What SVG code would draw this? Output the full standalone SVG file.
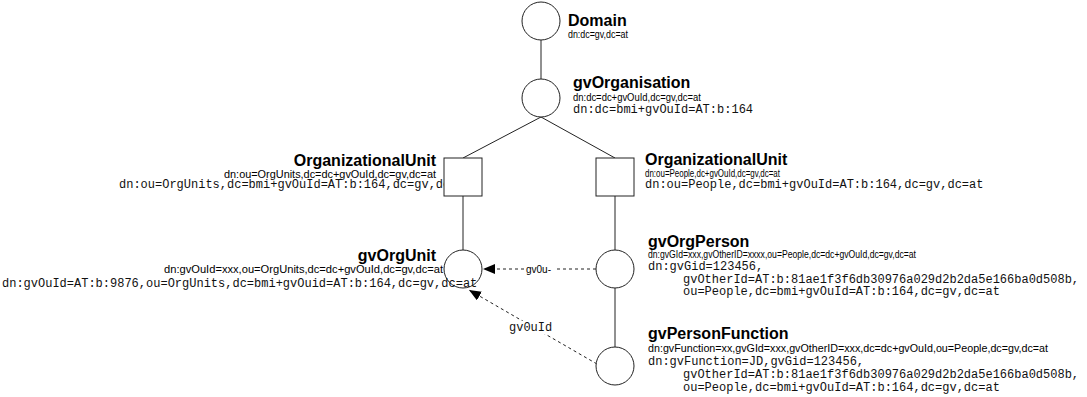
<svg xmlns="http://www.w3.org/2000/svg" width="1087" height="397" viewBox="0 0 1087 397">
<style>
.shape{fill:#fff;stroke:#222;stroke-width:1}
.edge{fill:none;stroke:#222;stroke-width:1}
.dash{fill:none;stroke:#222;stroke-width:1;stroke-dasharray:3,3}
.title{font-family:"Liberation Sans",Arial,sans-serif;font-weight:bold;font-size:16px;fill:#000}
.sans{font-family:"Liberation Sans",Arial,sans-serif;font-size:10px;fill:#000}
.mono{font-family:"Liberation Mono","Courier New",monospace;font-size:12px;fill:#111}
.lbl{font-family:"Liberation Mono","Courier New",monospace;font-size:12px;fill:#111}
.lbls{font-family:"Liberation Sans",Arial,sans-serif;font-size:10px;fill:#000}
</style>
<defs>
<marker id="arr" markerUnits="userSpaceOnUse" markerWidth="12" markerHeight="10" refX="12" refY="5" orient="auto">
<path d="M0,0 L12,5 L0,10 z" fill="#000"/>
</marker>
</defs>
<rect width="1087" height="397" fill="#fff"/>
<g id="connectors">
<line class="edge" x1="541" y1="40" x2="541" y2="79"/>
<line class="edge" x1="541" y1="117" x2="463" y2="158"/>
<line class="edge" x1="541" y1="117" x2="615" y2="158"/>
<line class="edge" x1="463" y1="196" x2="463" y2="250"/>
<line class="edge" x1="615" y1="196" x2="615" y2="250"/>
<line class="edge" x1="615" y1="288" x2="615" y2="347"/>
<line class="dash" x1="596" y1="269" x2="483" y2="269" marker-end="url(#arr)"/>
<rect x="524" y="262" width="32" height="13" fill="#fff"/>
<text class="lbls" x="526" y="273">gv0u-</text>
<line class="dash" x1="597" y1="364" x2="469" y2="290" marker-end="url(#arr)"/>
<rect x="507" y="321" width="46" height="13" fill="#fff"/>
<text class="lbl" x="509" y="331">gv0uId</text>
</g>
<g id="domain">
<circle class="shape" cx="541" cy="21" r="19"/>
<text class="title" x="568" y="26">Domain</text>
<text class="sans" x="568" y="38" textLength="60" lengthAdjust="spacingAndGlyphs">dn:dc=gv,dc=at</text>
</g>
<g id="gvOrganisation">
<circle class="shape" cx="541" cy="98" r="19"/>
<text class="title" x="573" y="88">gvOrganisation</text>
<text class="sans" x="573" y="101" textLength="128" lengthAdjust="spacingAndGlyphs">dn:dc=dc+gvOuId,dc=gv,dc=at</text>
<text class="mono" x="573" y="113">dn:dc=bmi+gvOuId=AT:b:164</text>
</g>
<g id="ouOrgUnits">
<text class="title" x="436" y="166" text-anchor="end">OrganizationalUnit</text>
<text class="sans" x="224" y="178" textLength="212" lengthAdjust="spacingAndGlyphs">dn:ou=OrgUnits,dc=dc+gvOuId,dc=gv,dc=at</text>
<text class="mono" x="119" y="188">dn:ou=OrgUnits,dc=bmi+gvOuId=AT:b:164,dc=gv,dc=at</text>
<rect class="shape" x="444" y="158" width="38" height="38"/>
</g>
<g id="ouPeople">
<rect class="shape" x="596" y="158" width="38" height="38"/>
<text class="title" x="645" y="165">OrganizationalUnit</text>
<text class="sans" x="645" y="177" textLength="135" lengthAdjust="spacingAndGlyphs">dn:ou=People,dc+gvOuId,dc=gv,dc=at</text>
<text class="mono" x="645" y="188">dn:ou=People,dc=bmi+gvOuId=AT:b:164,dc=gv,dc=at</text>
</g>
<g id="gvOrgUnit">
<circle class="shape" cx="463" cy="269" r="19"/>
<text class="title" x="436" y="261" text-anchor="end">gvOrgUnit</text>
<text class="sans" x="164" y="273" textLength="279" lengthAdjust="spacingAndGlyphs">dn:gvOuId=xxx,ou=OrgUnits,dc=dc+gvOuId,dc=gv,dc=at</text>
<text class="mono" x="2" y="287">dn:gvOuId=AT:b:9876,ou=OrgUnits,dc=bmi+gvOuid=AT:b:164,dc=gv,dc=at</text>
</g>
<g id="gvOrgPerson">
<circle class="shape" cx="615" cy="269" r="19"/>
<text class="title" x="648" y="247">gvOrgPerson</text>
<text class="sans" x="648" y="258" textLength="268" lengthAdjust="spacingAndGlyphs">dn:gvGId=xxx,gvOtherID=xxxx,ou=People,dc=dc+gvOuId,dc=gv,dc=at</text>
<text class="mono" x="648" y="270">dn:gvGid=123456,</text>
<text class="mono" x="683" y="283">gvOtherId=AT:b:81ae1f3f6db30976a029d2b2da5e166ba0d508b,</text>
<text class="mono" x="683" y="295">ou=People,dc=bmi+gvOuId=AT:b:164,dc=gv,dc=at</text>
</g>
<g id="gvPersonFunction">
<circle class="shape" cx="615" cy="366" r="19"/>
<text class="title" x="648" y="339">gvPersonFunction</text>
<text class="sans" x="648" y="352" textLength="400" lengthAdjust="spacingAndGlyphs">dn:gvFunction=xx,gvGId=xxx,gvOtherID=xxx,dc=dc+gvOuId,ou=People,dc=gv,dc=at</text>
<text class="mono" x="648" y="365">dn:gvFunction=JD,gvGid=123456,</text>
<text class="mono" x="683" y="378">gvOtherId=AT:b:81ae1f3f6db30976a029d2b2da5e166ba0d508b,</text>
<text class="mono" x="683" y="391">ou=People,dc=bmi+gvOuId=AT:b:164,dc=gv,dc=at</text>
</g>
</svg>
